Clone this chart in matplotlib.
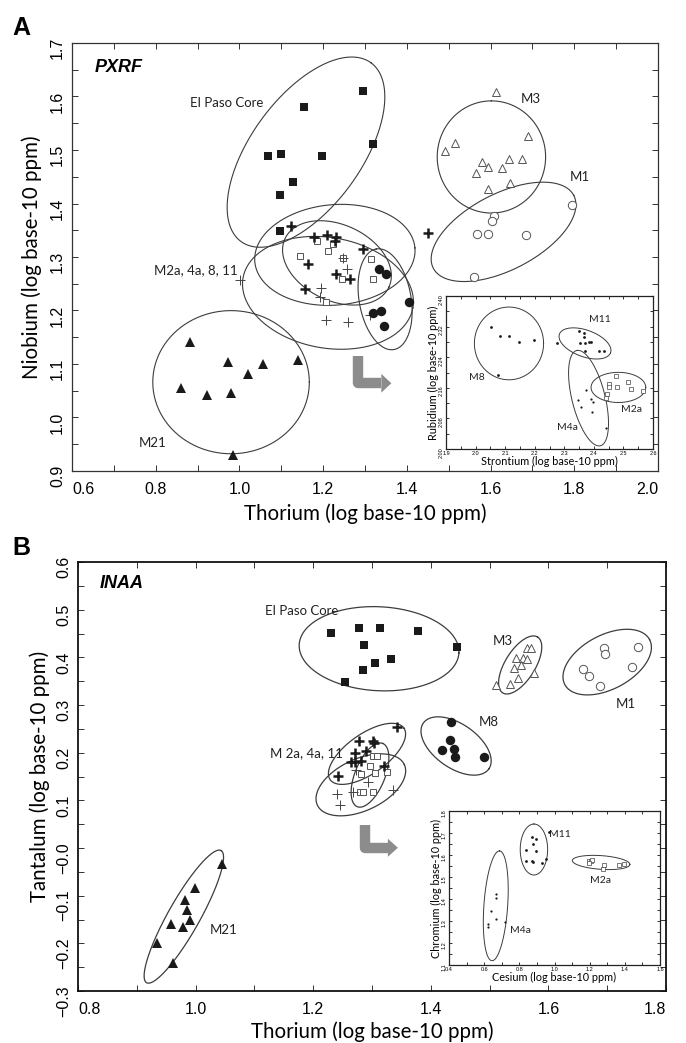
import numpy as np
import matplotlib
matplotlib.use("Agg")
import matplotlib.pyplot as plt
from matplotlib.ticker import FixedLocator, FixedFormatter

plt.rcParams['font.family'] = ['Liberation Sans', 'DejaVu Sans']
LBL = ['Lato', 'DejaVu Sans']

W, H = 686, 1043
INK = '#1a1a1a'
LINE = '#3c3c3c'
GREY = '#8c8c8c'

# ---------------- Panel A (PXRF): Thorium vs Niobium ----------------
elpaso_a_x = [1.295, 1.155, 1.319, 1.068, 1.099, 1.197, 1.127, 1.096, 1.096]
elpaso_a_y = [1.610, 1.580, 1.511, 1.489, 1.492, 1.488, 1.441, 1.416, 1.349]
m11_a_x = [1.124, 1.179, 1.209, 1.231, 1.229, 1.295, 1.164, 1.231, 1.265, 1.156, 1.451]
m11_a_y = [1.358, 1.337, 1.341, 1.337, 1.330, 1.315, 1.287, 1.268, 1.259, 1.240, 1.344]
m4a_a_x = [1.257, 1.196, 1.193, 1.207, 1.259, 1.001, 1.247, 1.311]
m4a_a_y = [1.277, 1.242, 1.225, 1.182, 1.178, 1.257, 1.299, 1.192]
m2a_a_x = [1.185, 1.212, 1.224, 1.144, 1.247, 1.315, 1.246, 1.319, 1.207]
m2a_a_y = [1.330, 1.312, 1.324, 1.302, 1.299, 1.296, 1.259, 1.259, 1.216]
m8_a_x = [1.334, 1.351, 1.404, 1.319, 1.339, 1.345]
m8_a_y = [1.277, 1.268, 1.216, 1.196, 1.199, 1.171]
m3_a_x = [1.612, 1.690, 1.515, 1.490, 1.580, 1.594, 1.566, 1.627, 1.644, 1.675, 1.647, 1.593]
m3_a_y = [1.609, 1.526, 1.514, 1.498, 1.477, 1.468, 1.457, 1.466, 1.483, 1.484, 1.438, 1.428]
m1_a_x = [1.795, 1.608, 1.603, 1.567, 1.595, 1.684, 1.561]
m1_a_y = [1.397, 1.377, 1.368, 1.343, 1.343, 1.342, 1.263]
m21_a_x = [0.883, 0.861, 0.923, 0.979, 0.972, 1.020, 1.057, 1.139, 0.984]
m21_a_y = [1.142, 1.056, 1.042, 1.046, 1.104, 1.081, 1.100, 1.107, 0.929]

# ellipses: centre x, centre y, semi-axes (in x units), angle as seen
ell_a = [(1.159, 1.496, 0.264, 0.132, 54),
         (1.602, 1.487, 0.134, 0.1295, 90),
         (1.631, 1.347, 0.189, 0.091, 27.4),
         (0.980, 1.066, 0.187, 0.171, 0),
         (1.228, 1.304, 0.192, 0.120, 5),
         (1.233, 1.289, 0.137, 0.091, -25),
         (1.2115, 1.233, 0.206, 0.132, -10),
         (1.348, 1.221, 0.122, 0.062, 100)]

# inset A: Strontium vs Rubidium
in_a_m8_x = [2.053, 2.082, 2.113, 2.146, 2.198, 2.077]
in_a_m8_y = [2.318, 2.296, 2.296, 2.280, 2.284, 2.193]
in_a_m11_x = [2.275, 2.349, 2.365, 2.366, 2.352, 2.369, 2.384, 2.389, 2.369, 2.418, 2.433]
in_a_m11_y = [2.277, 2.308, 2.303, 2.292, 2.277, 2.277, 2.279, 2.280, 2.255, 2.256, 2.256]
in_a_m4a_x = [2.375, 2.346, 2.357, 2.390, 2.396, 2.393, 2.440]
in_a_m4a_y = [2.155, 2.127, 2.110, 2.130, 2.123, 2.096, 2.055]
in_a_m2a_x = [2.475, 2.452, 2.452, 2.479, 2.516, 2.526, 2.565, 2.445, 2.441]
in_a_m2a_y = [2.191, 2.170, 2.162, 2.163, 2.175, 2.157, 2.152, 2.144, 2.134]
ell_in_a = [(2.113, 2.276, 0.117, 0.123, 0),
            (2.370, 2.276, 0.092, 0.045, -20),
            (2.382, 2.133, 0.166, 0.056, 104),
            (2.483, 2.161, 0.0925, 0.051, 0)]

# ---------------- Panel B (INAA): Thorium vs Tantalum ----------------
elpaso_b_x = [1.231, 1.278, 1.313, 1.286, 1.305, 1.285, 1.254, 1.378, 1.332, 1.444]
elpaso_b_y = [0.452, 0.461, 0.462, 0.426, 0.389, 0.374, 0.349, 0.455, 0.397, 0.421]
m3_b_x = [1.563, 1.570, 1.545, 1.556, 1.563, 1.541, 1.554, 1.575, 1.549, 1.535, 1.511]
m3_b_y = [0.419, 0.420, 0.399, 0.399, 0.397, 0.377, 0.384, 0.368, 0.356, 0.344, 0.342]
m1_b_x = [1.695, 1.696, 1.752, 1.743, 1.659, 1.669, 1.688]
m1_b_y = [0.419, 0.407, 0.422, 0.379, 0.375, 0.361, 0.339]
m8_b_x = [1.434, 1.433, 1.419, 1.439, 1.441, 1.490]
m8_b_y = [0.265, 0.227, 0.206, 0.207, 0.190, 0.190]
m21_b_x = [1.045, 0.999, 0.982, 0.985, 0.990, 0.959, 0.978, 0.935, 0.962]
m21_b_y = [-0.034, -0.084, -0.110, -0.130, -0.151, -0.160, -0.165, -0.199, -0.241]
m11_b_x = [1.342, 1.278, 1.302, 1.304, 1.290, 1.271, 1.264, 1.271, 1.243, 1.321, 1.281]
m11_b_y = [0.253, 0.225, 0.225, 0.220, 0.204, 0.199, 0.181, 0.181, 0.151, 0.172, 0.183]
m4a_b_x = [1.273, 1.294, 1.241, 1.246, 1.268, 1.336]
m4a_b_y = [0.163, 0.139, 0.114, 0.091, 0.117, 0.121]
m2a_b_x = [1.302, 1.309, 1.297, 1.305, 1.325, 1.282, 1.280, 1.284, 1.301]
m2a_b_y = [0.193, 0.193, 0.172, 0.157, 0.159, 0.156, 0.117, 0.117, 0.117]
ell_b = [(1.312, 0.418, 0.136, 0.0714, -3),
         (1.552, 0.384, 0.056, 0.0255, 58),
         (1.700, 0.390, 0.0816, 0.046, 28),
         (1.443, 0.214, 0.068, 0.0374, -35),
         (0.980, -0.144, 0.129, 0.027, 60.6),
         (1.2915, 0.1975, 0.0765, 0.034, 35),
         (1.281, 0.1325, 0.0816, 0.044, 25),
         (1.2966, 0.153, 0.058, 0.0255, 68)]

# inset B: Cesium vs Chromium
in_b_m11_x = [0.971, 0.873, 0.894, 0.879, 0.840, 0.892, 0.836, 0.873, 0.879, 0.929, 0.952]
in_b_m11_y = [1.705, 1.682, 1.674, 1.652, 1.622, 1.617, 1.573, 1.571, 1.568, 1.564, 1.583]
in_b_m2a_x = [1.197, 1.207, 1.216, 1.197, 1.280, 1.278, 1.365, 1.398]
in_b_m2a_y = [1.573, 1.573, 1.576, 1.564, 1.556, 1.535, 1.553, 1.558]
in_b_m4a_x = [0.670, 0.666, 0.639, 0.666, 0.622, 0.622, 0.720]
in_b_m4a_y = [1.425, 1.406, 1.346, 1.311, 1.286, 1.274, 1.296]
ell_in_b = [(0.883, 1.625, 0.145, 0.078, 90),
            (1.265, 1.566, 0.164, 0.039, -4),
            (0.666, 1.369, 0.313, 0.0676, 86)]


def draw_ellipse(ax, cx, cy, a, b, ang, lw=0.8):
    x0, x1 = ax.get_xlim()
    y0, y1 = ax.get_ylim()
    bb = ax.get_position()
    k = ((y1 - y0) / (bb.height * H)) / ((x1 - x0) / (bb.width * W))
    t = np.linspace(0, 2 * np.pi, 300)
    th = np.radians(ang)
    u = a * np.cos(t) * np.cos(th) - b * np.sin(t) * np.sin(th)
    v = a * np.cos(t) * np.sin(th) + b * np.sin(t) * np.cos(th)
    ax.plot(cx + u, cy + v * k, color=LINE, lw=lw, zorder=2)


def set_ticks(ax, xt, xl, xminor, yt, yl, yminor, size, length, pad):
    ax.xaxis.set_major_locator(FixedLocator(xt))
    ax.xaxis.set_major_formatter(FixedFormatter(xl))
    ax.xaxis.set_minor_locator(FixedLocator(xminor))
    ax.yaxis.set_major_locator(FixedLocator(yt))
    ax.yaxis.set_major_formatter(FixedFormatter(yl))
    ax.yaxis.set_minor_locator(FixedLocator(yminor))
    ax.tick_params(which='both', direction='in', top=True, right=True,
                   length=length, width=0.7, color='#333333',
                   labelsize=size, pad=pad)
    ax.tick_params(axis='y', labelrotation=90)


def bent_arrow(ax, x0, y0, y1, x1, tip, hh):
    ax.plot([x0, x0, x1], [y0, y1, y1], color=GREY, lw=7.5,
            solid_joinstyle='round', solid_capstyle='butt', zorder=3)
    ax.fill([x1, tip, x1], [y1 + hh, y1, y1 - hh], color=GREY, lw=0, zorder=3)


def pts(ax, x, y, kind, s=1.0):
    if kind == 'fsq':
        ax.plot(x, y, 's', ms=5.8 * s, color=INK, mew=0, zorder=4)
    elif kind == 'osq':
        ax.plot(x, y, 's', ms=4.6 * s, mfc='white', mec='#555555', mew=0.7, zorder=4)
    elif kind == 'fci':
        ax.plot(x, y, 'o', ms=6.8 * s, color=INK, mew=0, zorder=4)
    elif kind == 'oci':
        ax.plot(x, y, 'o', ms=6.0 * s, mfc='white', mec='#555555', mew=0.7, zorder=4)
    elif kind == 'ftr':
        ax.plot(x, y, '^', ms=6.8 * s, color=INK, mew=0, zorder=4)
    elif kind == 'otr':
        ax.plot(x, y, '^', ms=6.2 * s, mfc='white', mec='#555555', mew=0.7, zorder=4)
    elif kind == 'bplus':
        ax.plot(x, y, '+', ms=6.5 * s, color=INK, mew=1.8, zorder=4)
    elif kind == 'tplus':
        ax.plot(x, y, '+', ms=6.5 * s, color='#444444', mew=0.7, zorder=4)
    elif kind == 'dot':
        ax.plot(x, y, 'o', ms=2.0 * s, color=INK, mew=0, zorder=4)
    elif kind == 'odot':
        ax.plot(x, y, 's', ms=2.2 * s, mfc='white', mec='#444444', mew=0.5, zorder=4)


def edge_labels(ax):
    labs = ax.get_xticklabels()
    labs[0].set_ha('left')
    labs[-1].set_ha('right')


def axis_titles(ax, xt, yt, xpos, ypos, size):
    ax.set_xlabel(xt, family=LBL, fontsize=size)
    ax.set_ylabel(yt, family=LBL, fontsize=size)
    ax.xaxis.label.set_va('center')
    ax.yaxis.label.set_va('center')
    ax.xaxis.set_label_coords(0.5, xpos)
    ax.yaxis.set_label_coords(ypos, 0.5)


fig = plt.figure(figsize=(W / 100, H / 100), dpi=100)

# ======== Panel A ========
axA = fig.add_axes([72 / W, 1 - 471 / H, 586 / W, 428 / H])
axA.set_xlim(0.6, 2.0)
axA.set_ylim(0.9, 1.7)
set_ticks(axA,
          [0.6, 0.8, 1.0, 1.2, 1.4, 1.6, 1.8, 2.0],
          ['0.6', '0.8', '1.0', '1.2', '1.4', '1.6', '1.8', '2.0'],
          [0.7, 0.9, 1.1, 1.3, 1.5, 1.7, 1.9],
          [0.9, 1.0, 1.1, 1.2, 1.3, 1.4, 1.5, 1.6, 1.7],
          ['0.9', '1.0', '1.1', '1.2', '1.3', '1.4', '1.5', '1.6', '1.7'],
          [0.95, 1.05, 1.15, 1.25, 1.35, 1.45, 1.55, 1.65],
          11.5, 4, 8)
axA.tick_params(axis='y', pad=5)
edge_labels(axA)
for sp in axA.spines.values():
    sp.set_color('#333333')
    sp.set_linewidth(0.9)

for e in ell_a:
    draw_ellipse(axA, *e)
pts(axA, elpaso_a_x, elpaso_a_y, 'fsq')
pts(axA, m2a_a_x, m2a_a_y, 'osq')
pts(axA, m4a_a_x, m4a_a_y, 'tplus')
pts(axA, m11_a_x, m11_a_y, 'bplus')
pts(axA, m8_a_x, m8_a_y, 'fci')
pts(axA, m3_a_x, m3_a_y, 'otr')
pts(axA, m1_a_x, m1_a_y, 'oci')
pts(axA, m21_a_x, m21_a_y, 'ftr')
bent_arrow(axA, 1.283, 1.115, 1.064, 1.339, 1.363, 0.0175)

tk = dict(family=LBL, fontsize=9.5, color='#222222')
axA.text(0.969, 1.588, 'El Paso Core', ha='center', va='center', **tk)
axA.text(1.697, 1.595, 'M3', ha='center', va='center', **tk)
axA.text(1.814, 1.450, 'M1', ha='center', va='center', **tk)
axA.text(0.995, 1.276, 'M2a, 4a, 8, 11', ha='right', va='center', **tk)
axA.text(0.792, 0.953, 'M21', ha='center', va='center', **tk)
axA.text(0.039, 0.943, 'PXRF', transform=axA.transAxes, ha='left', va='center',
         fontsize=13, fontweight='bold', style='italic')
axis_titles(axA, 'Thorium (log base-10 ppm)', 'Niobium (log base-10 ppm)',
            -0.099, -0.068, 14.8)
fig.text(12 / W, 1 - 28 / H, 'A', fontsize=18, fontweight='bold', va='center')

# inset A
iA = fig.add_axes([446 / W, 1 - 449 / H, 207 / W, 153 / H])
iA.set_xlim(1.9, 2.6)
iA.set_ylim(2.0, 2.4)
set_ticks(iA,
          [1.9, 2.0, 2.1, 2.2, 2.3, 2.4, 2.5, 2.6],
          ['1.9', '2.0', '2.1', '2.2', '2.3', '2.4', '2.5', '2.6'],
          [1.95, 2.05, 2.15, 2.25, 2.35, 2.45, 2.55],
          [2.0, 2.08, 2.16, 2.24, 2.32, 2.40],
          ['2.00', '2.08', '2.16', '2.24', '2.32', '2.40'],
          [2.04, 2.12, 2.20, 2.28, 2.36],
          4, 2, 1.5)
for sp in iA.spines.values():
    sp.set_color('#222222')
    sp.set_linewidth(0.9)
for e in ell_in_a:
    draw_ellipse(iA, *e, lw=0.7)
pts(iA, in_a_m8_x, in_a_m8_y, 'dot')
pts(iA, in_a_m11_x, in_a_m11_y, 'dot')
pts(iA, in_a_m4a_x, in_a_m4a_y, 'dot', 0.8)
pts(iA, in_a_m2a_x, in_a_m2a_y, 'odot')
ik = dict(family=LBL, fontsize=7.5, color='#222222', ha='center', va='center')
iA.text(2.003, 2.188, 'M8', **ik)
iA.text(2.420, 2.339, 'M11', **ik)
iA.text(2.526, 2.103, 'M2a', **ik)
iA.text(2.309, 2.055, 'M4a', **ik)
iA.set_xlabel('Strontium (log base-10 ppm)', family=LBL, fontsize=7.8, labelpad=0)
iA.set_ylabel('Rubidium (log base-10 ppm)', family=LBL, fontsize=7.8, labelpad=0)

# ======== Panel B ========
axB = fig.add_axes([78 / W, 1 - 991 / H, 588 / W, 429 / H])
axB.set_xlim(0.8, 1.8)
axB.set_ylim(-0.3, 0.6)
set_ticks(axB,
          [0.8, 1.0, 1.2, 1.4, 1.6, 1.8],
          ['0.8', '1.0', '1.2', '1.4', '1.6', '1.8'],
          [0.9, 1.1, 1.3, 1.5, 1.7],
          [-0.3, -0.2, -0.1, 0.0, 0.1, 0.2, 0.3, 0.4, 0.5, 0.6],
          ['\u22120.3', '\u22120.2', '\u22120.1', '\u22120.0', '0.1', '0.2',
           '0.3', '0.4', '0.5', '0.6'],
          [-0.25, -0.15, -0.05, 0.05, 0.15, 0.25, 0.35, 0.45, 0.55],
          11.5, 4, 8)
axB.tick_params(axis='y', pad=5)
edge_labels(axB)
for sp in axB.spines.values():
    sp.set_color('#111111')
    sp.set_linewidth(1.3)

for e in ell_b:
    draw_ellipse(axB, *e, lw=0.9)
pts(axB, elpaso_b_x, elpaso_b_y, 'fsq')
pts(axB, m2a_b_x, m2a_b_y, 'osq')
pts(axB, m4a_b_x, m4a_b_y, 'tplus')
pts(axB, m11_b_x, m11_b_y, 'bplus')
pts(axB, m8_b_x, m8_b_y, 'fci')
pts(axB, m3_b_x, m3_b_y, 'otr')
pts(axB, m1_b_x, m1_b_y, 'oci')
pts(axB, m21_b_x, m21_b_y, 'ftr')
bent_arrow(axB, 1.288, 0.049, 0.0005, 1.327, 1.344, 0.019)

axB.text(1.180, 0.498, 'El Paso Core', ha='center', va='center', **tk)
axB.text(1.522, 0.434, 'M3', ha='center', va='center', **tk)
axB.text(1.731, 0.302, 'M1', ha='center', va='center', **tk)
axB.text(1.498, 0.264, 'M8', ha='center', va='center', **tk)
axB.text(1.189, 0.199, 'M 2a, 4a, 11', ha='center', va='center', **tk)
axB.text(1.047, -0.173, 'M21', ha='center', va='center', **tk)
axB.text(0.037, 0.949, 'INAA', transform=axB.transAxes, ha='left', va='center',
         fontsize=13, fontweight='bold', style='italic')
axis_titles(axB, 'Thorium (log base-10 ppm)', 'Tantalum (log base-10 ppm)',
            -0.096, -0.065, 14.8)
fig.text(12 / W, 1 - 548 / H, 'B', fontsize=18, fontweight='bold', va='center')

# inset B
iB = fig.add_axes([449 / W, 1 - 965 / H, 211 / W, 154 / H])
iB.set_xlim(0.4, 1.6)
iB.set_ylim(1.1, 1.8)
set_ticks(iB,
          [0.4, 0.6, 0.8, 1.0, 1.2, 1.4, 1.6],
          ['0.4', '0.6', '0.8', '1.0', '1.2', '1.4', '1.6'],
          [0.5, 0.7, 0.9, 1.1, 1.3, 1.5],
          [1.1, 1.2, 1.3, 1.4, 1.5, 1.6, 1.7, 1.8],
          ['1.1', '1.2', '1.3', '1.4', '1.5', '1.6', '1.7', '1.8'],
          [1.15, 1.25, 1.35, 1.45, 1.55, 1.65, 1.75],
          4, 2, 1.5)
for sp in iB.spines.values():
    sp.set_color('#222222')
    sp.set_linewidth(0.9)
for e in ell_in_b:
    draw_ellipse(iB, *e, lw=0.7)
pts(iB, in_b_m11_x, in_b_m11_y, 'dot')
pts(iB, in_b_m2a_x, in_b_m2a_y, 'odot')
pts(iB, in_b_m4a_x, in_b_m4a_y, 'dot', 0.8)
iB.text(1.033, 1.694, 'M11', **ik)
iB.text(1.259, 1.485, 'M2a', **ik)
iB.text(0.809, 1.258, 'M4a', **ik)
iB.set_xlabel('Cesium (log base-10 ppm)', family=LBL, fontsize=7.8, labelpad=0)
iB.set_ylabel('Chromium (log base-10 ppm)', family=LBL, fontsize=7.8, labelpad=0)

fig.savefig('out.png', dpi=100)
